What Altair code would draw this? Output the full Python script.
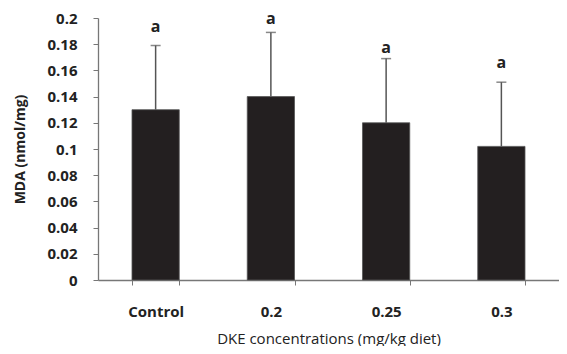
import altair as alt
import pandas as pd

groups = ["Control", "0.2", "0.25", "0.3"]
means = [0.130, 0.140, 0.120, 0.102]
upper = [0.179, 0.189, 0.169, 0.151]
letters = ["a", "a", "a", "a"]
letter_y = [0.193, 0.199, 0.177, 0.166]
y_ticks = [0, 0.02, 0.04, 0.06, 0.08, 0.1, 0.12, 0.14, 0.16, 0.18, 0.2]

df = pd.DataFrame({"group": groups, "mean": means, "upper": upper,
                   "letter": letters, "letter_y": letter_y})

FONT = "Open Sans"

x_axis = alt.Axis(labelAngle=0, tickBand="extent", labelFontWeight="bold",
                  labelFontSize=15, labelFont=FONT, labelColor="#222",
                  labelPadding=19, titleFont=FONT, titleFontSize=15,
                  titleFontWeight="normal", titleColor="#222", titlePadding=12,
                  domainColor="#777", tickColor="#777", tickSize=5, domainWidth=1.3)
x_scale = alt.Scale(paddingInner=0.59, paddingOuter=0.295)
x_title = "DKE concentrations (mg/kg diet)"

y_axis = alt.Axis(values=y_ticks,
                  labelExpr="datum.value == 0 ? '0' : format(datum.value, '~g')",
                  labelOverlap=False,
                  labelFontWeight="bold", labelFontSize=15, labelFont=FONT,
                  labelColor="#222", labelPadding=16, grid=False,
                  titleFont=FONT, titleFontSize=14,
                  titleFontWeight="bold", titleColor="#222", titlePadding=19,
                  domainColor="#777", tickColor="#777", tickSize=5, domainWidth=1.3)
y_scale = alt.Scale(domain=[0, 0.2])
y_title = "MDA (nmol/mg)"


def X():
    return alt.X("group:N", sort=groups, title=x_title, scale=x_scale, axis=x_axis)


def Y(field):
    return alt.Y(field, title=y_title, scale=y_scale, axis=y_axis)


base = alt.Chart(df)

bars = base.mark_bar(color="#231f20", stroke="#555", strokeWidth=0.8).encode(
    x=X(), y=Y("mean:Q"),
)

err = base.mark_rule(color="#555", strokeWidth=1.5).encode(
    x=X(), y=Y("mean:Q"), y2="upper:Q",
)

cap = base.mark_tick(color="#555", orient="horizontal", size=10, thickness=1.5).encode(
    x=X(), y=Y("upper:Q"),
)

txt = base.mark_text(font=FONT, fontSize=16, fontWeight="bold", color="#222",
                     baseline="middle").encode(
    x=X(), y=Y("letter_y:Q"), text="letter:N",
)

chart = alt.layer(bars, err, cap, txt).properties(
    width=461, height=262, padding={"left": 5, "top": 3, "right": 0, "bottom": 0}
).configure_view(stroke=None).configure_axisY(labelOverlap=False)

chart.save("out.html", embed_options={"renderer": "svg", "actions": False})
